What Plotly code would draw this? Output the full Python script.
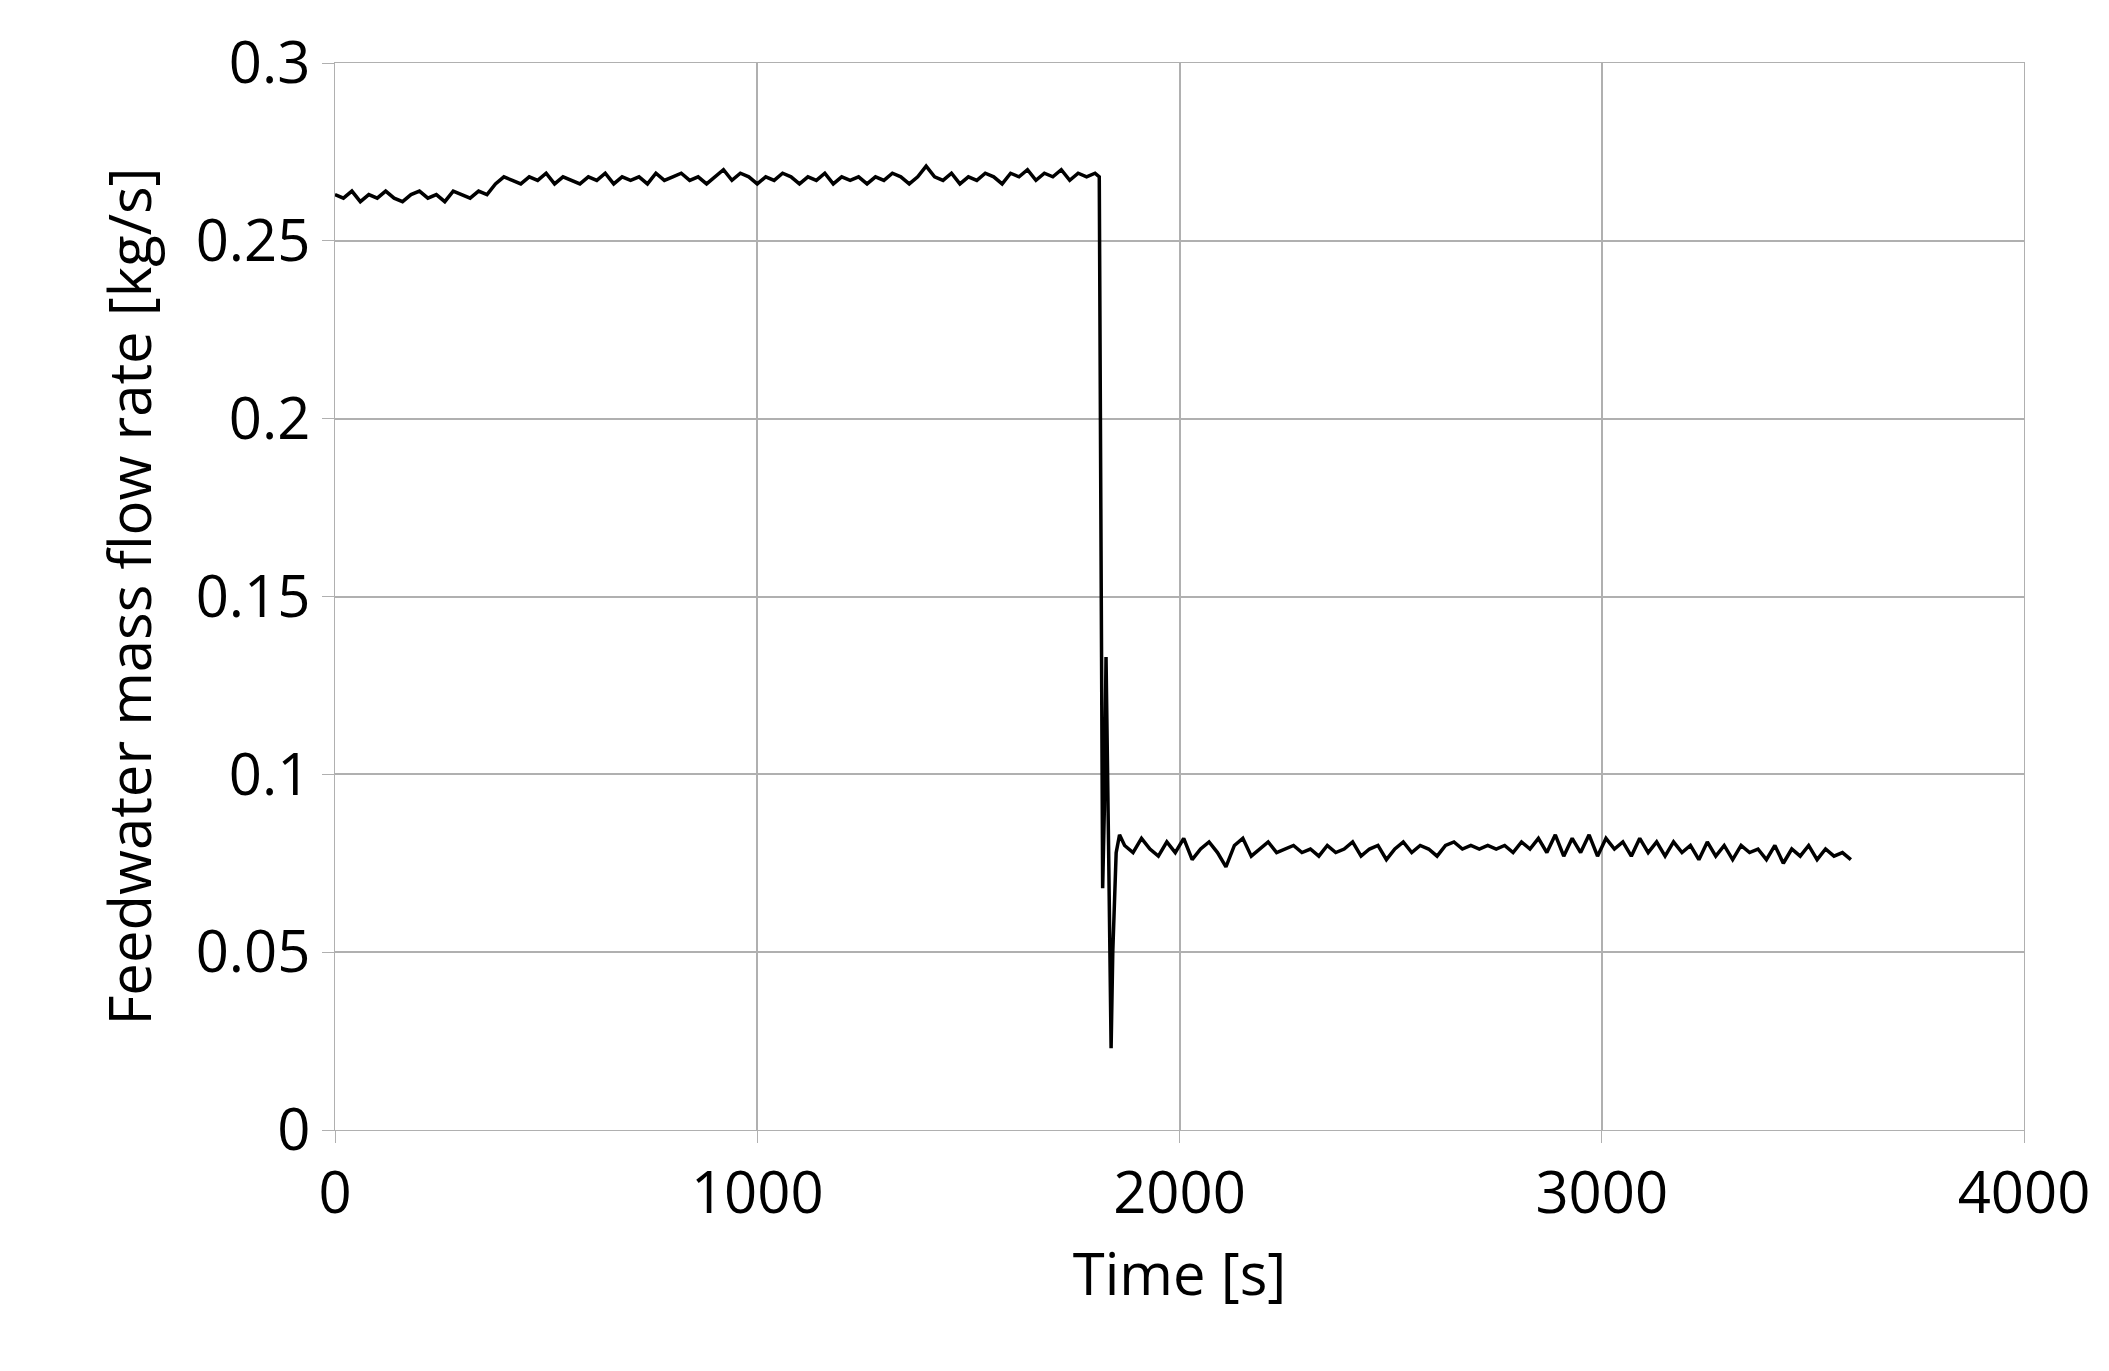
import plotly.graph_objects as go

t_before = list(range(0, 1801, 20))
flow_before = [0.263,0.262,0.264,0.261,0.263,0.262,0.264,0.262,0.261,0.263,
               0.264,0.262,0.263,0.261,0.264,0.263,0.262,0.264,0.263,0.266,
               0.268,0.267,0.266,0.268,0.267,0.269,0.266,0.268,0.267,0.266,
               0.268,0.267,0.269,0.266,0.268,0.267,0.268,0.266,0.269,0.267,
               0.268,0.269,0.267,0.268,0.266,0.268,0.270,0.267,0.269,0.268,
               0.266,0.268,0.267,0.269,0.268,0.266,0.268,0.267,0.269,0.266,
               0.268,0.267,0.268,0.266,0.268,0.267,0.269,0.268,0.266,0.268,
               0.271,0.268,0.267,0.269,0.266,0.268,0.267,0.269,0.268,0.266,
               0.269,0.268,0.270,0.267,0.269,0.268,0.270,0.267,0.269,0.268,
               0.269]
t_trans = [1810, 1815, 1818, 1822, 1826, 1832, 1838, 1842, 1850, 1858]
flow_trans = [0.268, 0.150, 0.068, 0.090, 0.133, 0.080, 0.023, 0.050, 0.078, 0.083]
t_after = list(range(1870, 3601, 20))
flow_after = [0.080,0.078,0.082,0.079,0.077,0.081,0.078,0.082,0.076,0.079,
              0.081,0.078,0.074,0.080,0.082,0.077,0.079,0.081,0.078,0.079,
              0.080,0.078,0.079,0.077,0.080,0.078,0.079,0.081,0.077,0.079,
              0.080,0.076,0.079,0.081,0.078,0.080,0.079,0.077,0.080,0.081,
              0.079,0.080,0.079,0.080,0.079,0.080,0.078,0.081,0.079,0.082,
              0.078,0.083,0.077,0.082,0.078,0.083,0.077,0.082,0.079,0.081,
              0.077,0.082,0.078,0.081,0.077,0.081,0.078,0.080,0.076,0.081,
              0.077,0.080,0.076,0.080,0.078,0.079,0.076,0.080,0.075,0.079,
              0.077,0.080,0.076,0.079,0.077,0.078,0.076,0.077]

t = t_before + t_trans + t_after
flow = flow_before + flow_trans + flow_after

fig = go.Figure(go.Scatter(x=t, y=flow, mode="lines", line=dict(color="black", width=3.5)))
font = dict(family="Open Sans, Lato, sans-serif", size=58, color="black")
fig.update_layout(
    width=2109, height=1371, plot_bgcolor="white", paper_bgcolor="white",
    margin=dict(l=327, r=93, t=55, b=249), showlegend=False, font=font,
)
fig.update_xaxes(range=[0, 4000], dtick=1000, showgrid=True, gridcolor="#b0b0b0", gridwidth=1.5,
                 showline=True, linecolor="#b0b0b0", mirror=True, ticks="outside", ticklen=12,
                 tickcolor="#b0b0b0", zeroline=False, tickfont=dict(size=58),
                 title=dict(text="Time [s]", standoff=25, font=dict(size=58)))
fig.update_yaxes(range=[0, 0.3], tickvals=[0,0.05,0.1,0.15,0.2,0.25,0.3],
                 ticktext=["0","0.05","0.1","0.15","0.2","0.25","0.3"],
                 showgrid=True, gridcolor="#b0b0b0", gridwidth=1.5, showline=True, linecolor="#b0b0b0",
                 mirror=True, ticks="outside", ticklen=12, tickcolor="#b0b0b0", zeroline=False,
                 tickfont=dict(size=58),
                 title=dict(text="Feedwater mass flow rate [kg/s]", standoff=25, font=dict(size=58)))
fig.write_html("out.html")
